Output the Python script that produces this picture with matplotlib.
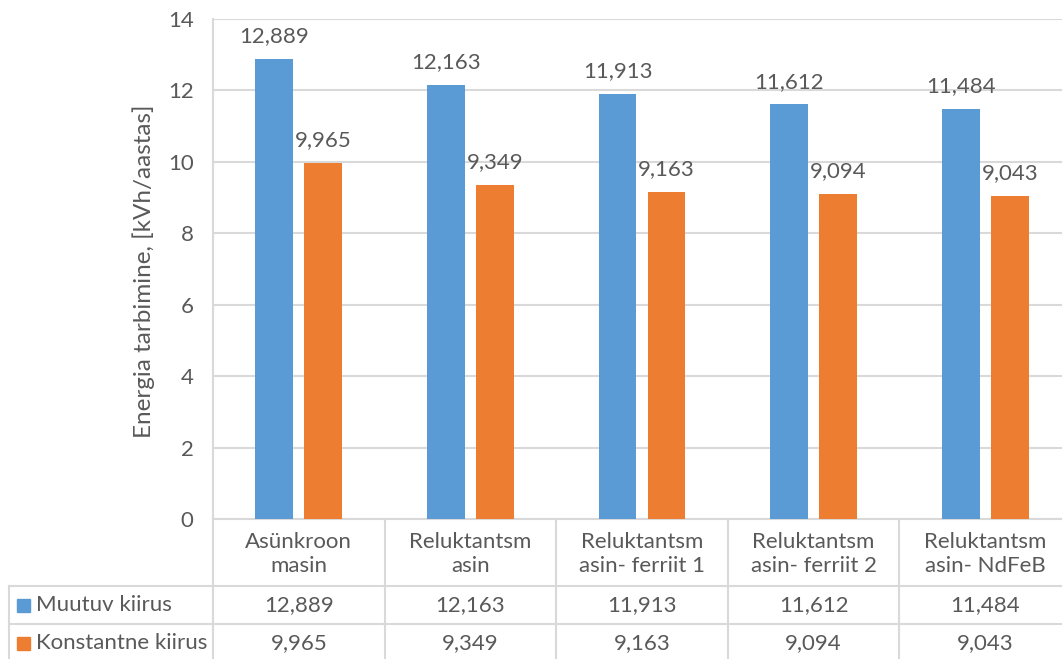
import matplotlib.pyplot as plt
from matplotlib.patches import Rectangle
from matplotlib.transforms import blended_transform_factory

# Andmed
categories = ["Asünkroon\nmasin", "Reluktantsm\nasin", "Reluktantsm\nasin- ferriit 1",
              "Reluktantsm\nasin- ferriit 2", "Reluktantsm\nasin- NdFeB"]
muutuv = [12.889, 12.163, 11.913, 11.612, 11.484]
konstantne = [9.965, 9.349, 9.163, 9.094, 9.043]
series_names = ["Muutuv kiirus", "Konstantne kiirus"]

blue = "#5B9BD5"
orange = "#ED7D31"
txt = "#595959"
grid = "#D9D9D9"
fs = 16

plt.rcParams["font.family"] = ["Lato", "DejaVu Sans"]

W, H = 1062, 659
fig = plt.figure(figsize=(W / 100, H / 100), dpi=100)
ax = fig.add_axes([213 / W, 140 / H, (1071 - 213) / W, 500 / H])


def fmt(v):
    return f"{v:.3f}".replace(".", ",")


x = list(range(len(categories)))
bw = 0.22
off = 0.143
b1 = ax.bar([i - off for i in x], muutuv, bw, color=blue, zorder=3)
b2 = ax.bar([i + off for i in x], konstantne, bw, color=orange, zorder=3)

for bars, vals in ((b1, muutuv), (b2, konstantne)):
    for r, v in zip(bars, vals):
        ax.annotate(fmt(v), (r.get_x() + r.get_width() / 2, v), xytext=(0, 12),
                    textcoords="offset points", ha="center", va="baseline",
                    fontsize=fs, color=txt)

ax.set_xlim(-0.5, len(categories) - 0.5)
ax.set_ylim(0, 14)
ax.set_yticks(range(0, 15, 2))
ax.set_xticks([])
ax.tick_params(axis="y", length=0, pad=14, labelsize=fs, labelcolor=txt)
ax.yaxis.grid(True, color=grid, linewidth=1.5)
ax.set_axisbelow(True)
for s in ["top", "right", "bottom"]:
    ax.spines[s].set_visible(False)
ax.spines["left"].set_color(grid)
ax.spines["left"].set_linewidth(1.5)

fig.text(144 / W, 1 - 271 / H, "Energia tarbimine, [kVh/aastas]", rotation=90,
         ha="center", va="center", fontsize=17.5, color=txt)

# Andmetabel graafiku all
tr = blended_transform_factory(ax.transData, fig.transFigure)
fy = lambda py: 1 - py / H
lw = 1.5
xl, xr = -0.5, len(categories) - 0.5

ax.plot([xl, xr], [fy(519), fy(519)], transform=tr, color=grid, lw=lw, clip_on=False)
for py in (586, 624):
    ax.plot([9 / W, 1], [fy(py), fy(py)], transform=fig.transFigure, color=grid,
            lw=lw, clip_on=False)
ax.plot([9 / W, 9 / W], [fy(586), 0], transform=fig.transFigure, color=grid,
        lw=lw, clip_on=False)
for b in range(len(categories)):
    ax.plot([b - 0.5, b - 0.5], [fy(519), 0], transform=tr, color=grid, lw=lw,
            clip_on=False)

for i, c in enumerate(categories):
    ax.text(i, fy(554), c, transform=tr, ha="center", va="center", fontsize=fs,
            color=txt, linespacing=1.2)
    ax.text(i, fy(605), fmt(muutuv[i]), transform=tr, ha="center", va="center",
            fontsize=fs, color=txt)
    ax.text(i, fy(643), fmt(konstantne[i]), transform=tr, ha="center", va="center",
            fontsize=fs, color=txt)

for name, col, py in ((series_names[0], blue, 605), (series_names[1], orange, 643)):
    fig.patches.append(Rectangle((17 / W, fy(py + 6.5)), 13 / W, 13 / H,
                                 transform=fig.transFigure, color=col))
    fig.text(36 / W, fy(py), name, ha="left", va="center", fontsize=fs, color=txt)

fig.savefig("out.png", dpi=100)
